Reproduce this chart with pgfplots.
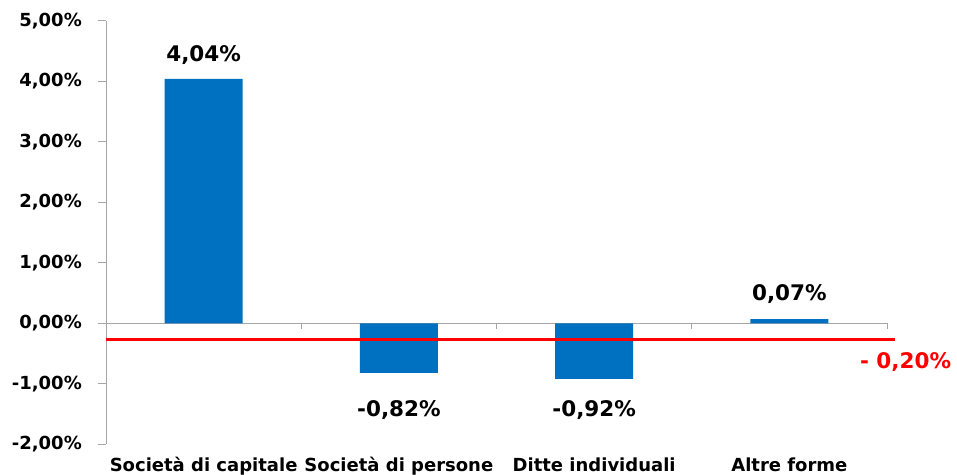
\documentclass[border=0pt]{standalone}
\usepackage{pgfplots}
\pgfplotsset{compat=1.18}
\usepackage{fontspec}
\setmainfont{DejaVu Sans}
\definecolor{barblue}{HTML}{0070C0}
\definecolor{axgray}{HTML}{A6A6A6}
\begin{document}
\begin{tikzpicture}
\path[use as bounding box] (-106bp,-30.7bp) rectangle (851bp,444.3bp);
\begin{axis}[
  at={(0,0)}, anchor=south west, scale only axis,
  width=781bp, height=423.6bp,
  xmin=-0.5, xmax=3.5, ymin=-2, ymax=5,
  clip=false,
  axis y line*=left, axis x line*=bottom,
  x axis line style={draw=none},
  y axis line style={axgray, line width=0.8bp},
  xtick={0,1,2,3},
  xticklabels={Società di capitale, Società di persone, Ditte individuali, Altre forme},
  x tick style={draw=none},
  major x tick style={draw=none},
  xticklabel style={font=\fontsize{18bp}{20bp}\selectfont\bfseries, anchor=base, yshift=-27.3bp},
  ytick={-2,-1,0,1,2,3,4,5},
  yticklabels={{-2,00\%},{-1,00\%},{0,00\%},{1,00\%},{2,00\%},{3,00\%},{4,00\%},{5,00\%}},
  ytick align=outside,
  y tick style={axgray, line width=0.8bp},
  major tick length=8bp,
  yticklabel style={font=\fontsize{18bp}{20bp}\selectfont\bfseries, anchor=east, inner sep=0pt, xshift=-16bp},
]
\draw[axgray, line width=0.8bp] (axis cs:-0.5,0) -- (axis cs:3.5,0);
\draw[axgray, line width=0.8bp] (axis cs:0.5,0) -- ([yshift=-6bp]axis cs:0.5,0);
\draw[axgray, line width=0.8bp] (axis cs:1.5,0) -- ([yshift=-6bp]axis cs:1.5,0);
\draw[axgray, line width=0.8bp] (axis cs:2.5,0) -- ([yshift=-6bp]axis cs:2.5,0);
\draw[axgray, line width=0.8bp] (axis cs:3.5,0) -- ([yshift=-6bp]axis cs:3.5,0);
\addplot[ybar, bar width=0.4, bar shift=0pt, fill=barblue, draw=none]
  coordinates {(0,4.04) (1,-0.82) (2,-0.92) (3,0.07)};
\addplot[red, line width=2.5bp, sharp plot, no marks]
  coordinates {(-0.5,-0.27) (3.54,-0.27)};
\begin{scope}[every node/.style={font=\fontsize{21.5bp}{23bp}\selectfont\bfseries}]
\node at (axis cs:0,4.425) {4,04\%};
\node at (axis cs:1,-1.435) {-0,82\%};
\node at (axis cs:2,-1.435) {-0,92\%};
\node at (axis cs:3,0.49) {0,07\%};
\node[text=red] at (axis cs:3.595,-0.645) {- 0,20\%};
\end{scope}
\end{axis}
\end{tikzpicture}
\end{document}
